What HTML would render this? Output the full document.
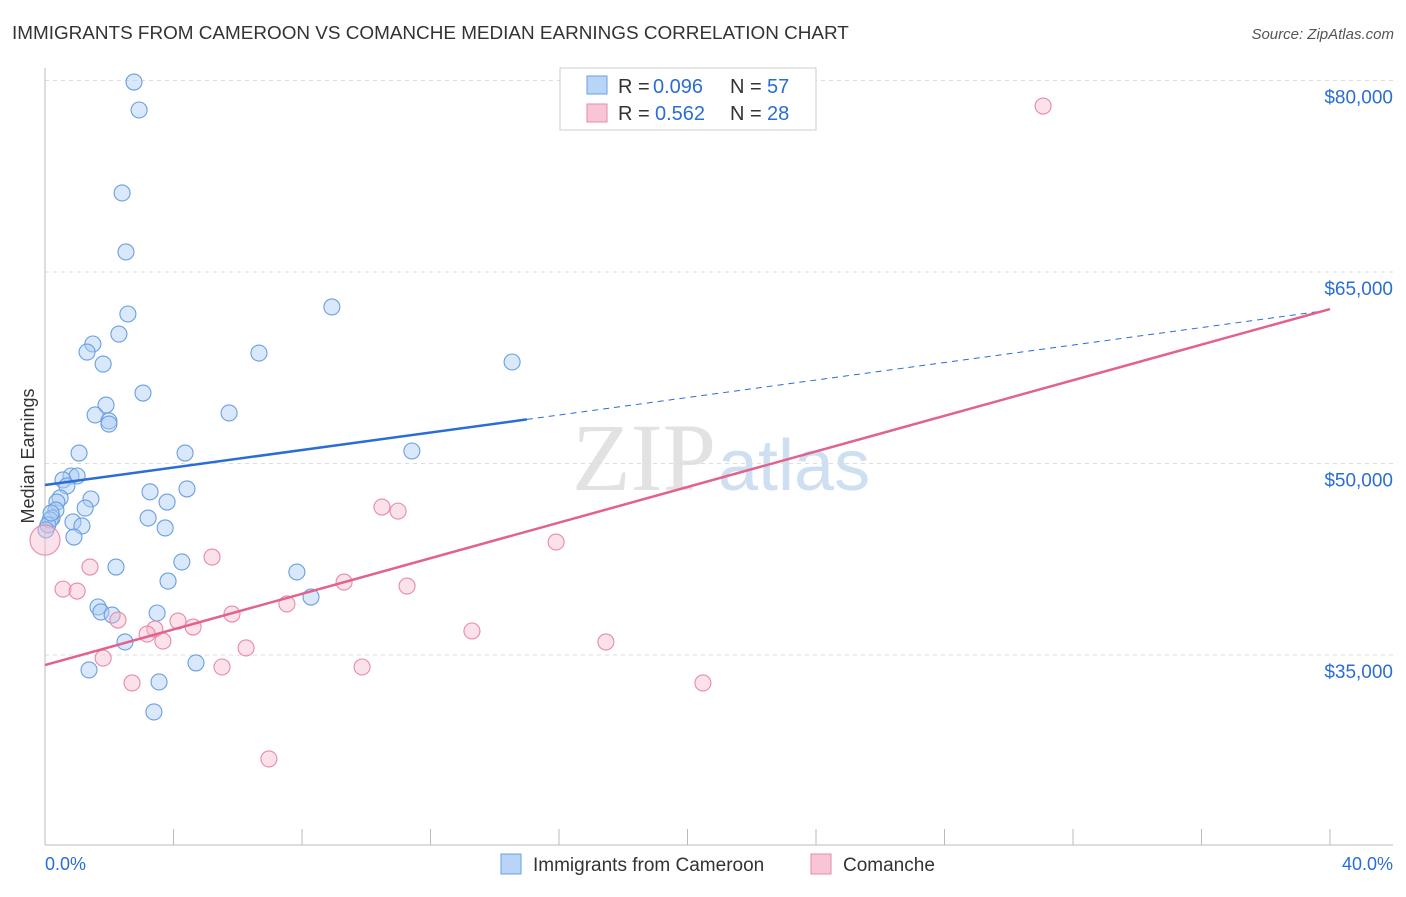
<!DOCTYPE html>
<html><head><meta charset="utf-8"><style>
body{margin:0;background:#fff;font-family:"Liberation Sans",sans-serif}
</style></head><body>
<svg id="c" width="1406" height="892" xmlns="http://www.w3.org/2000/svg">
<text x="12" y="39" font-size="18.9" fill="#333">IMMIGRANTS FROM CAMEROON VS COMANCHE MEDIAN EARNINGS CORRELATION CHART</text>
<text x="1394" y="39" font-size="15" fill="#555" font-style="italic" text-anchor="end">Source: ZipAtlas.com</text>
<text x="34" y="456" font-size="18" fill="#333" text-anchor="middle" transform="rotate(-90 34 456)">Median Earnings</text>
<text x="716" y="490" font-size="96" fill="#e2e2e2" text-anchor="end" font-family="Liberation Serif">ZIP</text>
<text x="718" y="490" font-size="72" fill="#cfdff2">atlas</text>
<g id="grid"></g><g id="pts"></g>
<g>
<rect x="560" y="68" width="256" height="62" fill="#fff" stroke="#ccc"/>
<rect x="587" y="76" width="20" height="18" fill="#b8d4f7" stroke="#6a9fe0"/>
<rect x="587" y="104" width="20" height="18" fill="#f8c5d5" stroke="#e88aa8"/>
<text x="618" y="93" font-size="20" fill="#333">R =</text>
<text x="653" y="93" font-size="20" fill="#2a6dd4">0.096</text>
<text x="730" y="93" font-size="20" fill="#333">N =</text>
<text x="767" y="93" font-size="20" fill="#2a6dd4">57</text>
<text x="618" y="120" font-size="20" fill="#333">R =</text>
<text x="655" y="120" font-size="20" fill="#2a6dd4">0.562</text>
<text x="730" y="120" font-size="20" fill="#333">N =</text>
<text x="767" y="120" font-size="20" fill="#2a6dd4">28</text>
</g>
<g>
<rect x="501" y="854" width="20" height="20" fill="#b8d4f7" stroke="#6a9fe0"/>
<text x="533" y="871" font-size="19" fill="#333">Immigrants from Cameroon</text>
<rect x="811" y="854" width="20" height="20" fill="#f8c5d5" stroke="#e88aa8"/>
<text x="843" y="871" font-size="19" fill="#333">Comanche</text>
</g>
<text x="45" y="870" font-size="18" fill="#2a6dd4">0.0%</text>
<text x="1393" y="870" font-size="18" fill="#2a6dd4" text-anchor="end">40.0%</text>
</svg>
<script>
const yTicks=[80000,65000,50000,35000];
const yTickLabels=["$80,000","$65,000","$50,000","$35,000"];
const xTicks=[0,4,8,12,16,20,24,28,32,36,40];
const blueX=[2.77,2.93,2.40,2.52,2.58,2.30,1.49,1.31,1.81,3.05,1.90,1.56,1.99,1.99,1.06,0.81,1.00,0.56,0.68,0.47,0.37,1.43,0.34,0.22,1.25,0.87,1.15,0.90,0.16,5.73,6.66,8.93,14.54,11.42,4.36,4.42,3.27,3.80,3.21,3.74,4.26,2.21,3.83,7.84,8.28,1.65,1.74,2.09,3.49,2.49,1.37,4.70,3.55,3.39,0.09,0.03,0.19];
const blueY=[79880,77690,71190,66570,61710,60140,59360,58730,57790,55520,54580,53800,53330,53090,50820,49020,49020,48710,48240,47300,46980,47220,46350,45730,46510,45420,45110,44240,45580,53960,58650,62260,57950,50980,50820,48010,47780,46980,45730,44950,42290,41890,40790,41500,39540,38760,38370,38130,38290,36020,33830,34380,32890,30540,45190,44800,46120];
const pinkX=[31.07,0.0,10.49,10.99,15.91,5.20,1.40,9.31,11.27,0.56,1.00,7.53,5.82,2.27,4.14,4.61,3.42,3.18,3.67,13.29,17.46,6.26,1.81,5.51,9.87,2.71,20.48,6.97];
const pinkY=[78000,44000,46590,46270,43850,42670,41890,40710,40400,40160,40010,39000,38210,37740,37660,37190,37030,36640,36090,36880,36020,35550,34760,34060,34060,32810,32810,26860];
const blueTrend=[48315,62020];
const pinkTrend=[34215,62100];
const blueSolidEnd=15;
const X=v=>45+v/40*1285, Y=v=>80.5+(80000-v)/15000*191.5;
const NS="http://www.w3.org/2000/svg";
function mk(t,a,p){const e=document.createElementNS(NS,t);for(const k in a)e.setAttribute(k,a[k]);p.appendChild(e);return e;}
const g=document.getElementById('grid'),P=document.getElementById('pts');
yTicks.forEach((t,i)=>{
 const l=mk('line',{x1:45,x2:1393,y1:Y(t),y2:Y(t),stroke:'#ddd','stroke-dasharray':'4 4'},g);
 
 
 const tx=mk('text',{x:1393,y:Y(t)+23,'font-size':19,fill:'#2a6dd4','text-anchor':'end'},g);
 tx.textContent=yTickLabels[i];
 
 
});
const ax=mk('line',{x1:45,x2:1393,y1:845,y2:845,stroke:'#bbb'},g);


const ay=mk('line',{x1:45,x2:45,y1:68,y2:845,stroke:'#bbb'},g);


xTicks.forEach(t=>{const l=mk('line',{x1:X(t),x2:X(t),y1:829,y2:845,stroke:'#bbb'},g);
 
 });
blueX.forEach((x,i)=>{const c=mk('circle',{cx:X(x),cy:Y(blueY[i]),r:8,fill:'rgba(170,204,245,0.45)',stroke:'#6a9fe0','stroke-width':1.1},P);
 
 });
pinkX.forEach((x,i)=>{const c=mk('circle',{cx:X(x),cy:Y(pinkY[i]),r:i==1?15:8,fill:'rgba(245,184,203,0.42)',stroke:'#e88aa8','stroke-width':1.1},P);
 
 });
const by=x=>blueTrend[0]+(blueTrend[1]-blueTrend[0])*x/40;
const b1=mk('line',{x1:X(0),y1:Y(by(0)),x2:X(blueSolidEnd),y2:Y(by(blueSolidEnd)),stroke:'#2a6dd4','stroke-width':2.5},P);


const b2=mk('line',{x1:X(blueSolidEnd),y1:Y(by(blueSolidEnd)),x2:X(40),y2:Y(by(40)),stroke:'#2a6dd4','stroke-width':1,'stroke-dasharray':'6 5'},P);


const p1=mk('line',{x1:X(0),y1:Y(pinkTrend[0]),x2:X(40),y2:Y(pinkTrend[1]),stroke:'#e0628d','stroke-width':2.5},P);


</script>
</body></html>
